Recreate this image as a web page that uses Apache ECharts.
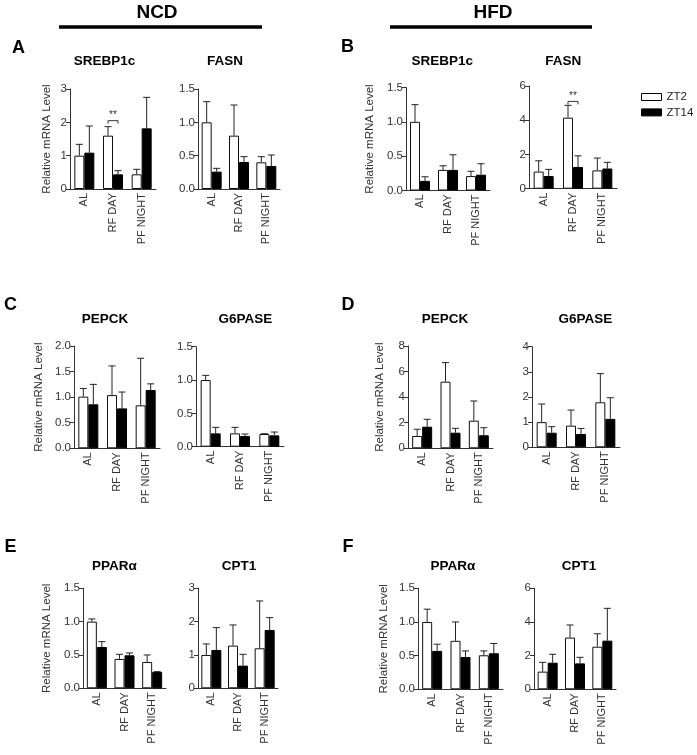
<!DOCTYPE html>
<html>
<head>
<meta charset="utf-8">
<script src="https://cdn.jsdelivr.net/npm/echarts@6/dist/echarts.min.js"></script>
<style>
html,body{margin:0;padding:0;background:#fff;}
#c{width:697px;height:755px;}
</style>
</head>
<body>
<div id="c"></div>
<script>
// ---------- DATA ----------
const categories = ['AL', 'RF DAY', 'PF NIGHT'];
const seriesNames = ['ZT2', 'ZT14'];

// A: NCD SREBP1c
const srebpNcdZT2 = [1.0, 1.6, 0.44];
const srebpNcdZT2Err = [0.34, 0.27, 0.15];
const srebpNcdZT14 = [1.09, 0.44, 1.82];
const srebpNcdZT14Err = [0.8, 0.11, 0.93];
const srebpNcdTicks = ['0', '1', '2', '3'];
// A: NCD FASN
const fasnNcdZT2 = [1.0, 0.8, 0.4];
const fasnNcdZT2Err = [0.31, 0.46, 0.085];
const fasnNcdZT14 = [0.26, 0.405, 0.345];
const fasnNcdZT14Err = [0.05, 0.08, 0.165];
const fasnNcdTicks = ['0.0', '0.5', '1.0', '1.5'];
// B: HFD SREBP1c
const srebpHfdZT2 = [1.0, 0.3, 0.21];
const srebpHfdZT2Err = [0.25, 0.06, 0.07];
const srebpHfdZT14 = [0.14, 0.3, 0.23];
const srebpHfdZT14Err = [0.06, 0.22, 0.16];
const srebpHfdTicks = ['0.0', '0.5', '1.0', '1.5'];
// B: HFD FASN
const fasnHfdZT2 = [1.0, 4.15, 1.07];
const fasnHfdZT2Err = [0.63, 0.72, 0.72];
const fasnHfdZT14 = [0.74, 1.27, 1.18];
const fasnHfdZT14Err = [0.39, 0.65, 0.36];
const fasnHfdTicks = ['0', '2', '4', '6'];
// C: NCD PEPCK
const pepckNcdZT2 = [1.01, 1.04, 0.84];
const pepckNcdZT2Err = [0.16, 0.57, 0.92];
const pepckNcdZT14 = [0.86, 0.78, 1.14];
const pepckNcdZT14Err = [0.39, 0.32, 0.12];
const pepckNcdTicks = ['0.0', '0.5', '1.0', '1.5', '2.0'];
// C: NCD G6PASE
const g6pNcdZT2 = [1.0, 0.2, 0.19];
const g6pNcdZT2Err = [0.07, 0.09, 0.005];
const g6pNcdZT14 = [0.2, 0.16, 0.17];
const g6pNcdZT14Err = [0.09, 0.03, 0.05];
const g6pNcdTicks = ['0.0', '0.5', '1.0', '1.5'];
// D: HFD PEPCK
const pepckHfdZT2 = [0.96, 5.21, 2.16];
const pepckHfdZT2Err = [0.53, 1.49, 1.54];
const pepckHfdZT14 = [1.69, 1.22, 1.02];
const pepckHfdZT14Err = [0.58, 0.34, 0.59];
const pepckHfdTicks = ['0', '2', '4', '6', '8'];
// D: HFD G6PASE
const g6pHfdZT2 = [1.0, 0.86, 1.79];
const g6pHfdZT2Err = [0.72, 0.62, 1.14];
const g6pHfdZT14 = [0.58, 0.53, 1.13];
const g6pHfdZT14Err = [0.24, 0.22, 0.84];
const g6pHfdTicks = ['0', '1', '2', '3', '4'];
// E: NCD PPARα
const pparNcdZT2 = [1.0, 0.44, 0.395];
const pparNcdZT2Err = [0.04, 0.07, 0.105];
const pparNcdZT14 = [0.62, 0.495, 0.245];
const pparNcdZT14Err = [0.08, 0.035, 0.005];
const pparNcdTicks = ['0.0', '0.5', '1.0', '1.5'];
// E: NCD CPT1
const cptNcdZT2 = [1.0, 1.28, 1.2];
const cptNcdZT2Err = [0.33, 0.62, 1.42];
const cptNcdZT14 = [1.15, 0.68, 1.75];
const cptNcdZT14Err = [0.67, 0.34, 0.37];
const cptNcdTicks = ['0', '1', '2', '3'];
// F: HFD PPARα
const pparHfdZT2 = [1.0, 0.72, 0.505];
const pparHfdZT2Err = [0.19, 0.28, 0.065];
const pparHfdZT14 = [0.57, 0.48, 0.535];
const pparHfdZT14Err = [0.1, 0.09, 0.145];
const pparHfdTicks = ['0.0', '0.5', '1.0', '1.5'];
// F: HFD CPT1
const cptHfdZT2 = [1.05, 3.07, 2.53];
const cptHfdZT2Err = [0.55, 0.75, 0.77];
const cptHfdZT14 = [1.58, 1.54, 2.89];
const cptHfdZT14Err = [0.5, 0.36, 1.92];
const cptHfdTicks = ['0', '2', '4', '6'];

// significance annotations: panel index, category index, value level of bracket
const sigPanels = [0, 3];
const sigCategory = [1, 1];
const sigLevel = [2.05, 5.1];
const sigText = ['**', '**'];

const yAxisName = 'Relative mRNA Level';

// ---------- PANELS (data refs) ----------
const panelData = [
  [srebpNcdZT2, srebpNcdZT2Err, srebpNcdZT14, srebpNcdZT14Err, srebpNcdTicks],
  [fasnNcdZT2, fasnNcdZT2Err, fasnNcdZT14, fasnNcdZT14Err, fasnNcdTicks],
  [srebpHfdZT2, srebpHfdZT2Err, srebpHfdZT14, srebpHfdZT14Err, srebpHfdTicks],
  [fasnHfdZT2, fasnHfdZT2Err, fasnHfdZT14, fasnHfdZT14Err, fasnHfdTicks],
  [pepckNcdZT2, pepckNcdZT2Err, pepckNcdZT14, pepckNcdZT14Err, pepckNcdTicks],
  [g6pNcdZT2, g6pNcdZT2Err, g6pNcdZT14, g6pNcdZT14Err, g6pNcdTicks],
  [pepckHfdZT2, pepckHfdZT2Err, pepckHfdZT14, pepckHfdZT14Err, pepckHfdTicks],
  [g6pHfdZT2, g6pHfdZT2Err, g6pHfdZT14, g6pHfdZT14Err, g6pHfdTicks],
  [pparNcdZT2, pparNcdZT2Err, pparNcdZT14, pparNcdZT14Err, pparNcdTicks],
  [cptNcdZT2, cptNcdZT2Err, cptNcdZT14, cptNcdZT14Err, cptNcdTicks],
  [pparHfdZT2, pparHfdZT2Err, pparHfdZT14, pparHfdZT14Err, pparHfdTicks],
  [cptHfdZT2, cptHfdZT2Err, cptHfdZT14, cptHfdZT14Err, cptHfdTicks]
];

// ---------- LAYOUT ----------
const layout = [
  {left: 70,  width: 86, top: 89,    height: 100,   nameGap: 17.5},
  {left: 198, width: 82, top: 89,    height: 100,   nameGap: null},
  {left: 406, width: 84, top: 87.5,  height: 103,   nameGap: 30.5},
  {left: 529, width: 88, top: 86,    height: 102.7, nameGap: null},
  {left: 74,  width: 86, top: 346,   height: 102.3, nameGap: 29.5},
  {left: 196, width: 88, top: 346.7, height: 100,   nameGap: null},
  {left: 408, width: 85, top: 346,   height: 102.3, nameGap: 22.5},
  {left: 532, width: 88, top: 346.7, height: 100.6, nameGap: null},
  {left: 83,  width: 83, top: 588.3, height: 100,   nameGap: 30.5},
  {left: 198, width: 80, top: 588.3, height: 100,   nameGap: null},
  {left: 418, width: 85, top: 588.3, height: 101,   nameGap: 28.5},
  {left: 534, width: 82, top: 588.3, height: 101,   nameGap: null}
];

const FONT = '"Liberation Sans", Arial, Helvetica, sans-serif';
const AXIS_COLOR = '#333';
const BAR_W = 10;

const textItems = [
  {t: 'NCD', x: 157, y: 12.5, s: 19},
  {t: 'HFD', x: 493, y: 12.5, s: 19},
  {t: 'A', x: 18.5, y: 48, s: 18},
  {t: 'B', x: 347.5, y: 47.5, s: 18},
  {t: 'C', x: 10.5, y: 305, s: 18},
  {t: 'D', x: 348, y: 305, s: 18},
  {t: 'E', x: 10.5, y: 547.5, s: 18},
  {t: 'F', x: 348, y: 547, s: 18},
  {t: 'SREBP1c', x: 104.5, y: 61.5, s: 13.5},
  {t: 'FASN', x: 225, y: 61.5, s: 13.5},
  {t: 'SREBP1c', x: 442.3, y: 61.5, s: 13.5},
  {t: 'FASN', x: 563.3, y: 61.5, s: 13.5},
  {t: 'PEPCK', x: 105, y: 319.5, s: 13.5},
  {t: 'G6PASE', x: 245.3, y: 319.5, s: 13.5},
  {t: 'PEPCK', x: 445, y: 319.5, s: 13.5},
  {t: 'G6PASE', x: 585.3, y: 319.5, s: 13.5},
  {t: 'PPARα', x: 114.5, y: 566, s: 13.5},
  {t: 'CPT1', x: 239, y: 566, s: 13.5},
  {t: 'PPARα', x: 453, y: 566, s: 13.5},
  {t: 'CPT1', x: 579, y: 566, s: 13.5}
];
const headerLines = [[59, 262, 27], [390, 592, 27]];

// ---------- BUILD ----------
const grids = [], xAxes = [], yAxes = [], series = [];

function errRenderer(offset) {
  return function (params, api) {
    const c = api.value(0), v = api.value(1), e = api.value(2);
    const p0 = api.coord([c, v]);
    const p1 = api.coord([c, v + e]);
    const x = p0[0] + offset;
    const st = {stroke: '#222', lineWidth: 1};
    return {
      type: 'group',
      children: [
        {type: 'line', shape: {x1: x, y1: p0[1], x2: x, y2: p1[1]}, style: st},
        {type: 'line', shape: {x1: x - 3.5, y1: p1[1], x2: x + 3.5, y2: p1[1]}, style: st}
      ]
    };
  };
}

panelData.forEach((pd, i) => {
  const L = layout[i];
  const [z2, z2e, z14, z14e, ticks] = pd;
  const maxV = parseFloat(ticks[ticks.length - 1]);
  const step = parseFloat(ticks[1]);
  const dec = (ticks[0].split('.')[1] || '').length;
  grids.push({left: L.left, top: L.top, width: L.width, height: L.height, containLabel: false});
  xAxes.push({
    type: 'category', gridIndex: i, data: categories,
    axisLine: {show: true, lineStyle: {color: AXIS_COLOR, width: 1}},
    axisTick: {show: false},
    axisLabel: {rotate: 90, interval: 0, margin: 4, fontSize: 11, color: '#333', fontFamily: FONT},
    splitLine: {show: false}
  });
  const ya = {
    type: 'value', gridIndex: i, min: 0, max: maxV, interval: step,
    axisLine: {show: true, lineStyle: {color: AXIS_COLOR, width: 1}},
    axisTick: {show: true, length: 4, lineStyle: {color: AXIS_COLOR}},
    axisLabel: {fontSize: 11.5, color: '#333', margin: 3, fontFamily: FONT,
      formatter: v => v.toFixed(dec)},
    splitLine: {show: false}
  };
  if (L.nameGap !== null) {
    Object.assign(ya, {
      name: yAxisName, nameLocation: 'middle', nameRotate: 90, nameGap: L.nameGap,
      nameTextStyle: {fontSize: 11.5, color: '#333', fontFamily: FONT}
    });
  }
  yAxes.push(ya);
  series.push({
    type: 'bar', name: seriesNames[0], xAxisIndex: i, yAxisIndex: i, data: z2,
    barWidth: BAR_W, barGap: '0%',
    itemStyle: {color: '#fff', borderColor: '#111', borderWidth: 1},
    emphasis: {disabled: true}, animation: false
  });
  series.push({
    type: 'bar', name: seriesNames[1], xAxisIndex: i, yAxisIndex: i, data: z14,
    barWidth: BAR_W, barGap: '0%',
    itemStyle: {color: '#000', borderColor: '#000', borderWidth: 1},
    emphasis: {disabled: true}, animation: false
  });
  series.push({
    type: 'custom', name: 'err' + i + 'a', xAxisIndex: i, yAxisIndex: i, clip: false, z: 5,
    encode: {x: 0, y: 1},
    data: z2.map((v, k) => [k, v, z2e[k]]),
    renderItem: errRenderer(-BAR_W / 2), animation: false
  });
  series.push({
    type: 'custom', name: 'err' + i + 'b', xAxisIndex: i, yAxisIndex: i, clip: false, z: 5,
    encode: {x: 0, y: 1},
    data: z14.map((v, k) => [k, v, z14e[k]]),
    renderItem: errRenderer(BAR_W / 2), animation: false
  });
});

const chart = echarts.init(document.getElementById('c'), null, {renderer: 'canvas'});
chart.setOption({
  backgroundColor: '#fff',
  animation: false,
  textStyle: {fontFamily: FONT},
  grid: grids, xAxis: xAxes, yAxis: yAxes, series: series,
  legend: {
    orient: 'vertical', left: 636, top: 86, itemWidth: 20, itemHeight: 7, itemGap: 3.4,
    icon: 'rect', selectedMode: false,
    textStyle: {fontSize: 11.5, color: '#222', fontFamily: FONT, lineHeight: 12},
    data: [
      {name: seriesNames[0], itemStyle: {color: '#fff', borderColor: '#000', borderWidth: 1}},
      {name: seriesNames[1], itemStyle: {color: '#000', borderColor: '#000', borderWidth: 1}}
    ]
  }
});

// ---------- graphic: titles, header lines, significance ----------
const graphics = [];
textItems.forEach(o => {
  graphics.push({type: 'text', x: o.x, y: o.y, silent: true,
    style: {text: o.t, fill: '#000', font: 'bold ' + o.s + 'px ' + FONT,
      align: 'center', verticalAlign: 'middle'}});
});
headerLines.forEach(l => {
  graphics.push({type: 'line', silent: true,
    shape: {x1: l[0], y1: l[2], x2: l[1], y2: l[2]},
    style: {stroke: '#000', lineWidth: 3.5}});
});
sigPanels.forEach((p, k) => {
  const c = chart.convertToPixel({gridIndex: p}, [sigCategory[k], sigLevel[k]]);
  const x1 = c[0] - BAR_W / 2, x2 = c[0] + BAR_W / 2, y = c[1];
  graphics.push({type: 'polyline', silent: true,
    shape: {points: [[x1, y + 3], [x1, y], [x2, y], [x2, y + 3]]},
    style: {stroke: '#333', lineWidth: 1, fill: null}});
  graphics.push({type: 'text', x: c[0], y: y - 5, silent: true,
    style: {text: sigText[k], fill: '#333', font: '10px ' + FONT,
      align: 'center', verticalAlign: 'middle'}});
});
chart.setOption({graphic: graphics});
</script>
</body>
</html>
